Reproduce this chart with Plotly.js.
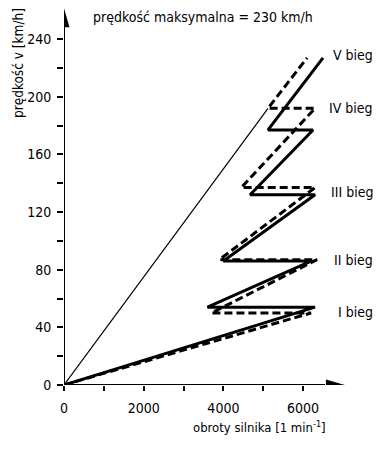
<!DOCTYPE html>
<html>
<head>
<meta charset="utf-8">
<script src="https://cdn.plot.ly/plotly-3.0.1.min.js"></script>
<style>html,body{margin:0;padding:0;background:#fff;}#chart{width:387px;height:450px;}</style>
</head>
<body>
<div id="chart"></div>
<script>
// Data
const solidRpm = [0, 6300, 3600, 6200, 4000, 6300, 4670, 6250, 5120, 6500];
const solidV   = [0, 54, 54, 86, 86, 132, 132, 177, 177, 227];
const dashRpm  = [0, 6200, 3700, 6350, 3900, 6300, 4450, 6300, 5120, 6100];
const dashV    = [0, 50, 50, 87, 87, 137, 137, 192, 192, 227];
const thinRpm  = [0, 5120];
const thinV    = [0, 192];
const gearLabels = ['I bieg', 'II bieg', 'III bieg', 'IV bieg', 'V bieg'];
const gearLabelV = [51, 87, 134, 192, 229];
const xTickVals = [0, 2000, 4000, 6000];
const xTickText = ['0', '2000', '4000', '6000'];
const xMinorVals = [1000, 3000, 5000];
const yTickVals = [0, 40, 80, 120, 160, 200, 240];
const yTickText = ['0', '40', '80', '120', '160', '200', '240'];
const yMinorVals = [20, 60, 100, 140, 180, 220];
const titleText = 'prędkość maksymalna = 230 km/h';
const xTitle = 'obroty silnika [1 min<sup>-1</sup>]';
const yTitle = 'prędkość v [km/h]';

const FONT = '"Liberation Sans Narrow", "DejaVu Sans Condensed", "Noto Sans", sans-serif';
const xMax = 7930, yMax = 263.7;
const xArrowTip = 7050, yArrowTip = 261.5;

const traces = [
  {x: thinRpm, y: thinV, mode: 'lines', line: {color: '#000', width: 1.2}, hoverinfo: 'skip'},
  {x: dashRpm, y: dashV, mode: 'lines', line: {color: '#000', width: 3, dash: '8px,4px'}, hoverinfo: 'skip'},
  {x: solidRpm, y: solidV, mode: 'lines', line: {color: '#000', width: 3}, hoverinfo: 'skip'}
];

const annotations = gearLabels.map((t, i) => ({
  x: 7800, y: gearLabelV[i], xref: 'x', yref: 'y', text: t, showarrow: false,
  xanchor: 'right', yanchor: 'middle', font: {family: FONT, size: 14, color: '#000'}
}));
annotations.push(
  {x: 0.44, y: 0.968, xref: 'paper', yref: 'paper', text: titleText, showarrow: false,
   xanchor: 'center', yanchor: 'middle', font: {family: FONT, size: 14, color: '#000'}},
  {x: -0.146, y: 0.847, xref: 'paper', yref: 'paper', text: yTitle, showarrow: false, textangle: -90,
   xanchor: 'center', yanchor: 'middle', font: {family: FONT, size: 13.5, color: '#000'}},
  {x: 0.62, y: -0.1105, xref: 'paper', yref: 'paper', text: xTitle, showarrow: false,
   xanchor: 'center', yanchor: 'middle', font: {family: FONT, size: 13, color: '#000'}}
);

const shapes = [
  {type: 'line', xref: 'x', yref: 'y', x0: 0, y0: 0, x1: xArrowTip - 500, y1: 0, line: {color: '#000', width: 2}},
  {type: 'line', xref: 'x', yref: 'y', x0: 0, y0: 0, x1: 0, y1: yArrowTip - 8, line: {color: '#000', width: 2}},
  {type: 'path', xref: 'x', yref: 'y', xsizemode: 'pixel', ysizemode: 'pixel', xanchor: xArrowTip, yanchor: 0,
   path: 'M0,0 L-19,5.5 L-19,-5.5 Z', fillcolor: '#000', line: {color: '#000', width: 0}},
  {type: 'path', xref: 'x', yref: 'y', xsizemode: 'pixel', ysizemode: 'pixel', xanchor: 0, yanchor: yArrowTip,
   path: 'M0,0 L-5.5,-19 L5.5,-19 Z', fillcolor: '#000', line: {color: '#000', width: 0}}
];

const layout = {
  width: 387, height: 450,
  margin: {l: 64, r: 7, t: 5, b: 65},
  paper_bgcolor: '#fff', plot_bgcolor: '#fff',
  showlegend: false,
  font: {family: FONT, size: 14, color: '#000'},
  xaxis: {range: [0, xMax], showgrid: false, zeroline: false, showline: false,
    tickmode: 'array', tickvals: xTickVals, ticktext: xTickText,
    ticks: 'outside', ticklen: 5, tickwidth: 2, tickcolor: '#000', ticklabelstandoff: 5,
    minor: {tickmode: 'array', tickvals: xMinorVals, ticks: 'outside', ticklen: 5, tickwidth: 2, tickcolor: '#000', showgrid: false},
    tickfont: {family: FONT, size: 14, color: '#000'}, fixedrange: true},
  yaxis: {range: [0, yMax], showgrid: false, zeroline: false, showline: false,
    tickmode: 'array', tickvals: yTickVals, ticktext: yTickText,
    ticks: 'outside', ticklen: 6, tickwidth: 2, tickcolor: '#000', ticklabelstandoff: 3,
    minor: {tickmode: 'array', tickvals: yMinorVals, ticks: 'outside', ticklen: 6, tickwidth: 2, tickcolor: '#000', showgrid: false},
    tickfont: {family: FONT, size: 14, color: '#000'}, fixedrange: true},
  annotations: annotations,
  shapes: shapes
};

Plotly.newPlot('chart', traces, layout, {staticPlot: true, displayModeBar: false});
</script>
</body>
</html>
